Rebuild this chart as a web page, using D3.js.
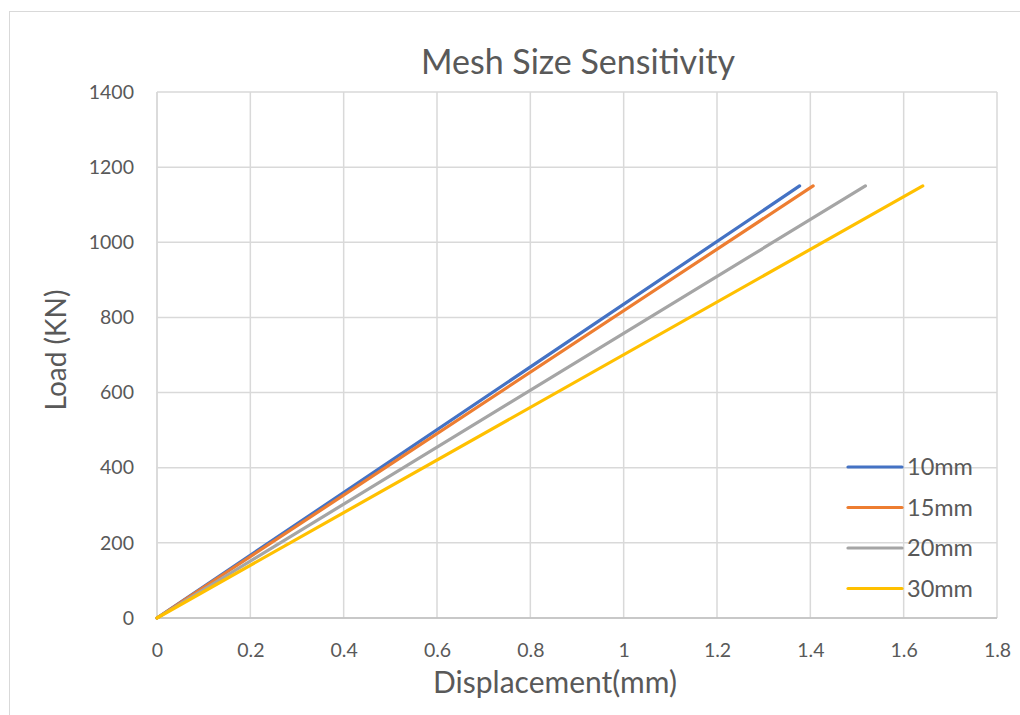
<!DOCTYPE html>
<html>
<head>
<meta charset="utf-8">
<script src="https://cdn.jsdelivr.net/npm/d3@7/dist/d3.min.js"></script>
<style>
  html, body { margin: 0; padding: 0; background: #fff; }
  svg { display: block; }
  text { font-family: Lato, "Open Sans", "Liberation Sans", sans-serif; fill: #595959; }
</style>
</head>
<body>
<svg id="chart" width="1020" height="715"></svg>
<script>
// Load–displacement curves for each mesh size
const meshSizes = ["10mm", "15mm", "20mm", "30mm"];
const seriesColors = ["#4472C4", "#ED7D31", "#A5A5A5", "#FFC000"];
const displacement10 = [0, 1.377];
const displacement15 = [0, 1.406];
const displacement20 = [0, 1.518];
const displacement30 = [0, 1.641];
const loadValues = [0, 1150];
const xTicks = [0, 0.2, 0.4, 0.6, 0.8, 1, 1.2, 1.4, 1.6, 1.8];
const yTicks = [0, 200, 400, 600, 800, 1000, 1200, 1400];

const displacements = [displacement10, displacement15, displacement20, displacement30];
const series = meshSizes.map((name, i) => ({
  name,
  color: seriesColors[i],
  points: displacements[i].map((d, j) => ({ x: d, y: loadValues[j] }))
}));

const svg = d3.select("#chart");
const plot = { left: 157, right: 997, top: 92, bottom: 618 };

// Outer chart frame
svg.append("rect")
  .attr("x", 9.5).attr("y", 11.5)
  .attr("width", 1030).attr("height", 720)
  .attr("fill", "#fff").attr("stroke", "#d9d9d9").attr("stroke-width", 1);

const x = d3.scaleLinear().domain([0, 1.8]).range([plot.left, plot.right]);
const y = d3.scaleLinear().domain([0, 1400]).range([plot.bottom, plot.top]);

// Gridlines
const grid = svg.append("g");
grid.selectAll("line.v").data(xTicks).join("line")
  .attr("x1", d => x(d)).attr("x2", d => x(d))
  .attr("y1", plot.top).attr("y2", plot.bottom)
  .attr("stroke", "#d9d9d9").attr("stroke-width", 1.5);
grid.selectAll("line.h").data(yTicks).join("line")
  .attr("x1", plot.left).attr("x2", plot.right)
  .attr("y1", d => y(d)).attr("y2", d => y(d))
  .attr("stroke", "#d9d9d9").attr("stroke-width", 1.5);

// Axis baselines
svg.append("line")
  .attr("x1", plot.left).attr("x2", plot.right)
  .attr("y1", plot.bottom).attr("y2", plot.bottom)
  .attr("stroke", "#bfbfbf").attr("stroke-width", 1.5);
svg.append("line")
  .attr("x1", plot.left).attr("x2", plot.left)
  .attr("y1", plot.top).attr("y2", plot.bottom)
  .attr("stroke", "#d9d9d9").attr("stroke-width", 1.5);

// Tick labels via d3 axes
const xAxis = d3.axisBottom(x).tickValues(xTicks).tickFormat(d3.format("~g")).tickSize(0).tickPadding(0);
const gx = svg.append("g").attr("transform", `translate(0,${plot.bottom + 39})`).call(xAxis);
gx.select(".domain").remove();
gx.selectAll("text").attr("font-size", 19.5).attr("dy", null).attr("y", 0)
  .style("font-family", "Lato, 'Open Sans', sans-serif").attr("fill", "#595959");

const yAxis = d3.axisLeft(y).tickValues(yTicks).tickFormat(d3.format("d")).tickSize(0).tickPadding(0);
const gy = svg.append("g").attr("transform", `translate(${plot.left - 23},0)`).call(yAxis);
gy.select(".domain").remove();
gy.selectAll("text").attr("font-size", 19.5)
  .style("font-family", "Lato, 'Open Sans', sans-serif").attr("fill", "#595959");

// Series lines
const line = d3.line().x(d => x(d.x)).y(d => y(d.y));
svg.append("g").selectAll("path").data(series).join("path")
  .attr("d", d => line(d.points))
  .attr("fill", "none")
  .attr("stroke", d => d.color)
  .attr("stroke-width", 3.2)
  .attr("stroke-linecap", "round");

// Title
svg.append("text")
  .attr("x", 578).attr("y", 74)
  .attr("text-anchor", "middle")
  .attr("font-size", 34)
  .text("Mesh Size Sensitivity");

// Axis titles
svg.append("text")
  .attr("x", 555).attr("y", 693)
  .attr("text-anchor", "middle")
  .attr("font-size", 30)
  .text("Displacement(mm)");
svg.append("text")
  .attr("transform", "translate(66,350) rotate(-90)")
  .attr("text-anchor", "middle")
  .attr("font-size", 28)
  .text("Load (KN)");

// Legend
const legend = svg.append("g").attr("transform", "translate(848,467)");
const item = legend.selectAll("g").data(series).join("g")
  .attr("transform", (d, i) => `translate(0,${i * 40.5})`);
item.append("line")
  .attr("x1", 0).attr("x2", 54)
  .attr("y1", 0).attr("y2", 0)
  .attr("stroke", d => d.color)
  .attr("stroke-width", 3.2)
  .attr("stroke-linecap", "round");
item.append("text")
  .attr("x", 59).attr("y", 0)
  .attr("dy", "0.36em")
  .attr("font-size", 23.5)
  .text(d => d.name);
</script>
</body>
</html>
